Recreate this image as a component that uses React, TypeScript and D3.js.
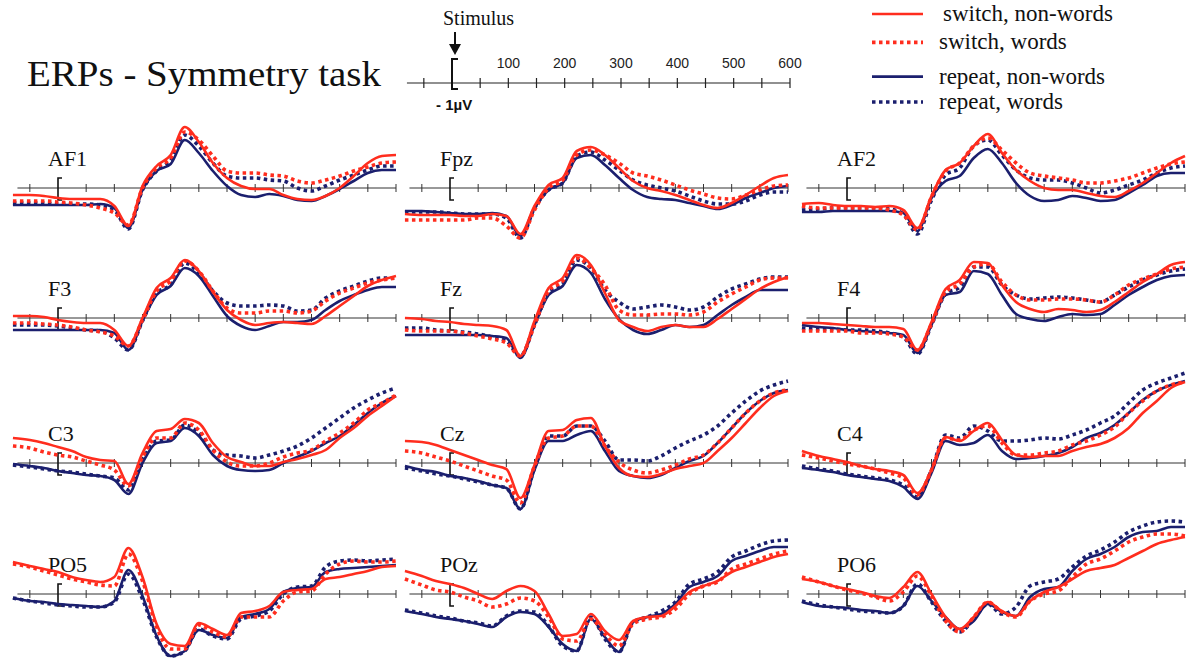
import React, { useRef, useEffect } from 'react';
import * as d3 from 'd3';

// sample times (ms) shared by every waveform
const TIMES = [-80, -50, -25, 0, 25, 50, 75,
  100, 125, 150, 175, 200, 225, 250,
  275, 300, 325, 350, 375, 400, 425,
  450, 475, 500, 525, 550, 575, 600];
const AXIS_TICKS = [-50, 50, 100, 150, 200, 250, 300, 350, 400, 450, 500, 550, 600];
const SCALE_LABELS = [100, 200, 300, 400, 500, 600];
const PANEL_LABELS = ['AF1', 'Fpz', 'AF2', 'F3', 'Fz', 'F4', 'C3', 'Cz', 'C4', 'PO5', 'POz', 'PO6'];

// amplitudes (µV-ish units, + is up), sn = switch non-words, sw = switch words,
// rn = repeat non-words, rw = repeat words
const AF1_SN = [-0.7, -0.7, -0.8, -1.0, -1.1, -1.1, -1.1, -1.8, -3.8, 0.2, 2.2, 3.3, 6.1, 4.6, 2.5, 1.0, 0.2, -0.1, -0.1, -0.7, -1.1, -1.2, -0.8, 0, 1.2, 2.5, 3.2, 3.3];
const AF1_SW = [-1.3, -1.3, -1.3, -1.4, -1.5, -1.7, -2.0, -2.5, -3.7, 0, 2.0, 3.0, 5.6, 4.8, 3.2, 1.7, 1.5, 1.5, 1.3, 1.2, 0.7, 0.5, 0.8, 1.2, 1.7, 2.1, 2.5, 2.6];
const AF1_RN = [-1.7, -1.7, -1.7, -1.7, -1.7, -1.7, -1.6, -2.0, -4.0, -0.2, 1.7, 2.4, 4.8, 3.5, 1.7, 0.2, -0.7, -0.9, -0.6, -0.8, -1.2, -1.3, -0.8, -0.1, 0.7, 1.5, 1.8, 1.8];
const AF1_RW = [-1.5, -1.5, -1.5, -1.6, -1.6, -1.6, -1.7, -2.2, -4.1, -0.2, 1.7, 2.8, 5.3, 4.2, 2.5, 1.2, 1.0, 1.0, 0.8, 0.7, 0, -0.3, 0.2, 0.8, 1.3, 1.8, 2.2, 2.2];

const FPZ_SN = [-2.6, -2.7, -2.7, -2.7, -2.8, -2.8, -2.6, -2.8, -4.6, -1.8, 0.3, 1.0, 3.7, 4.1, 3.3, 2.0, 0.7, 0, -0.3, -0.7, -1.2, -1.7, -2.0, -1.5, -0.7, 0.2, 1.0, 1.3];
const FPZ_SW = [-3.2, -3.2, -3.2, -3.2, -3.2, -3.0, -3.0, -3.8, -5.0, -2.2, 0, 0.8, 3.3, 3.8, 3.3, 2.5, 1.5, 1.2, 0.8, 0.3, -0.2, -0.6, -1.0, -1.1, -0.7, -0.2, 0.2, 0.3];
const FPZ_RN = [-2.3, -2.3, -2.4, -2.5, -2.6, -2.6, -2.5, -2.8, -4.8, -2.0, -0.2, 0.5, 3.0, 3.3, 2.3, 1.0, -0.2, -0.9, -1.1, -1.2, -1.5, -1.8, -2.1, -1.7, -1.0, -0.5, 0, 0.2];
const FPZ_RW = [-2.4, -2.4, -2.4, -2.5, -2.6, -2.6, -2.6, -3.0, -5.0, -2.0, -0.2, 0.5, 3.2, 3.6, 2.8, 1.8, 0.8, 0.3, 0, -0.3, -0.8, -1.3, -1.6, -1.6, -1.3, -0.7, -0.4, -0.4];

const AF2_SN = [-1.6, -1.5, -1.7, -1.8, -1.8, -1.9, -1.8, -2.2, -4.0, -0.8, 1.8, 2.5, 4.2, 5.4, 3.5, 1.8, 0.7, 0, -0.2, -0.2, -0.5, -0.8, -0.9, -0.3, 0.5, 1.5, 2.5, 3.2];
const AF2_SW = [-1.8, -2.0, -2.0, -2.0, -2.0, -2.0, -2.2, -2.7, -4.2, -0.9, 1.7, 2.5, 4.2, 5.0, 3.8, 2.5, 1.5, 1.2, 1.0, 0.8, 0.5, 0.5, 0.7, 1.0, 1.5, 2.0, 2.4, 2.6];
const AF2_RN = [-2.4, -2.4, -2.3, -2.3, -2.3, -2.3, -2.3, -2.5, -4.3, -1.0, 0.7, 1.2, 3.0, 3.9, 2.5, 0.5, -0.8, -1.3, -1.2, -0.8, -1.0, -1.3, -1.2, -0.5, 0.3, 1.2, 1.5, 1.5];
const AF2_RW = [-2.2, -2.1, -2.0, -2.0, -2.0, -2.0, -2.1, -2.6, -4.6, -1.2, 1.3, 2.0, 4.2, 4.8, 3.3, 1.8, 1.0, 0.8, 0.8, 0.5, 0, -0.5, -0.2, 0.3, 0.8, 1.5, 2.0, 2.2];

const F3_SN = [0.2, 0.2, 0.1, -0.2, -0.4, -0.5, -0.5, -1.2, -2.8, 0, 3.0, 4.0, 5.8, 4.7, 2.6, 0.8, -0.2, -0.7, -0.5, -0.4, -0.5, -0.6, 0.2, 1.2, 2.2, 3.2, 3.8, 4.2];
const F3_SW = [-0.5, -0.5, -0.6, -0.7, -0.9, -1.2, -1.4, -1.8, -2.8, -0.2, 2.7, 3.7, 5.7, 4.7, 2.7, 1.0, 0.5, 0.5, 0.7, 0.7, 0.5, 0.7, 1.7, 2.5, 3.0, 3.5, 3.8, 4.0];
const F3_RN = [-1.2, -1.2, -1.2, -1.2, -1.2, -1.2, -1.2, -1.5, -3.2, -0.3, 2.3, 3.2, 5.0, 4.2, 2.2, 0.2, -0.8, -1.2, -0.8, -0.4, -0.4, -0.2, 0.8, 1.7, 2.3, 2.8, 3.1, 3.1];
const F3_RW = [-0.7, -0.7, -0.7, -0.8, -1.0, -1.2, -1.3, -2.0, -3.2, -0.3, 2.5, 3.3, 5.5, 4.5, 2.7, 1.5, 1.2, 1.2, 1.3, 1.2, 0.7, 0.8, 2.0, 2.7, 3.2, 3.7, 4.0, 4.0];

const FZ_SN = [0, -0.1, -0.3, -0.4, -0.6, -0.7, -0.8, -1.2, -3.8, -0.3, 3.0, 4.0, 6.3, 5.3, 2.5, -0.2, -0.9, -1.3, -0.9, -0.7, -0.9, -0.9, -0.1, 0.9, 1.9, 2.9, 3.6, 4.1];
const FZ_SW = [-1.2, -1.3, -1.3, -1.3, -1.5, -1.8, -2.1, -2.5, -3.8, -0.7, 2.7, 3.7, 6.0, 5.0, 3.3, 0.8, 0.3, 0.3, 0.4, 0.4, 0.3, 0.6, 1.6, 2.4, 3.1, 3.8, 4.0, 4.0];
const FZ_RN = [-1.7, -1.7, -1.7, -1.7, -1.7, -1.7, -1.8, -2.0, -4.0, -0.7, 2.3, 3.2, 5.3, 4.5, 1.9, -0.1, -1.2, -1.6, -1.2, -0.7, -0.9, -0.7, 0.3, 1.3, 2.1, 2.8, 2.8, 2.8];
const FZ_RW = [-1.0, -1.0, -1.2, -1.3, -1.4, -1.6, -1.9, -2.3, -3.8, -0.7, 2.5, 3.4, 5.8, 5.0, 2.8, 1.6, 0.9, 1.1, 1.3, 1.1, 0.8, 1.1, 2.1, 2.9, 3.4, 3.9, 4.1, 4.1];

const F4_SN = [-0.5, -0.5, -0.6, -0.7, -0.8, -0.9, -0.9, -1.1, -3.2, -0.4, 2.9, 3.8, 5.6, 5.5, 3.3, 1.6, 0.9, 0.6, 0.9, 0.8, 0.6, 0.8, 1.6, 2.6, 3.6, 4.4, 5.3, 5.6];
const F4_SW = [-1.3, -1.3, -1.3, -1.3, -1.5, -1.5, -1.6, -1.9, -3.2, -0.6, 2.6, 3.4, 5.1, 5.4, 3.6, 2.3, 1.8, 1.8, 1.9, 1.9, 1.8, 1.6, 2.3, 3.3, 3.9, 4.4, 4.9, 5.1];
const F4_RN = [-0.7, -0.9, -1.0, -1.2, -1.3, -1.4, -1.5, -1.7, -3.5, -0.7, 2.3, 2.6, 4.7, 4.4, 2.3, 0.4, -0.1, -0.3, 0.1, 0.4, 0.3, 0.4, 1.3, 2.3, 3.1, 3.8, 4.2, 4.3];
const F4_RW = [-1.0, -1.1, -1.1, -1.2, -1.2, -1.3, -1.5, -1.9, -3.6, -0.7, 2.4, 3.1, 5.1, 5.1, 3.3, 2.3, 1.9, 2.0, 2.1, 2.0, 1.8, 1.6, 2.3, 3.1, 3.8, 4.3, 4.7, 4.9];

const C3_SN = [2.5, 2.3, 2.0, 1.6, 1.2, 0.6, 0.3, 0.2, -2.1, 1.0, 3.2, 3.4, 4.4, 4.0, 2.0, 0.6, 0.1, -0.3, -0.3, 0.1, 0.4, 0.8, 1.3, 2.5, 3.5, 4.7, 5.7, 6.7];
const C3_SW = [1.7, 1.5, 1.1, 0.8, 0.6, 0.2, -0.2, -0.7, -2.3, 0.6, 2.5, 2.5, 4.0, 3.3, 1.3, 0.1, -0.3, -0.3, 0, 0.6, 1.0, 1.3, 2.2, 3.0, 4.0, 5.3, 6.0, 6.8];
const C3_RN = [-0.1, -0.3, -0.5, -0.8, -1.0, -1.2, -1.3, -1.7, -3.1, 0, 2.0, 2.2, 3.5, 2.7, 0.8, -0.3, -0.7, -0.8, -0.7, 0, 0.6, 1.2, 2.0, 2.7, 3.8, 5.0, 6.0, 6.7];
const C3_RW = [-0.2, -0.4, -0.6, -0.8, -0.9, -1.1, -1.3, -1.5, -2.7, 0.3, 2.2, 2.3, 3.8, 3.0, 1.3, 0.8, 0.7, 0.5, 0.8, 1.2, 1.7, 2.5, 3.5, 4.5, 5.5, 6.3, 7.0, 7.5];

const CZ_SN = [2.2, 2.1, 1.8, 1.3, 0.8, 0.3, -0.2, -0.6, -3.5, -0.2, 3.2, 3.3, 4.3, 4.5, 1.7, -0.5, -1.3, -1.4, -1.1, -0.6, -0.3, 0, 1.2, 2.5, 4.0, 5.5, 6.7, 7.2];
const CZ_SW = [1.2, 1.0, 0.6, 0.2, -0.3, -0.8, -1.3, -1.7, -4.0, -0.3, 2.5, 2.7, 3.7, 3.7, 1.7, 0.1, -0.7, -1.0, -0.7, -0.2, 0.4, 0.8, 2.0, 3.5, 5.0, 6.2, 7.0, 7.3];
const CZ_RN = [-0.3, -0.7, -0.9, -1.3, -1.5, -1.8, -2.2, -2.5, -4.6, -0.7, 2.2, 2.2, 2.8, 3.2, 1.2, -0.8, -1.3, -1.5, -1.2, -0.5, 0.2, 0.7, 2.0, 3.5, 5.0, 6.2, 7.0, 7.3];
const CZ_RW = [-0.5, -0.8, -1.1, -1.3, -1.6, -1.9, -2.2, -2.5, -4.6, -0.5, 2.7, 2.7, 3.7, 3.7, 2.2, 0.3, 0.3, 0.2, 0.7, 1.5, 2.2, 2.8, 3.7, 5.0, 6.2, 7.2, 7.8, 8.2];

const C4_SN = [1.2, 0.7, 0.4, 0.1, -0.3, -0.6, -0.8, -1.2, -3.0, -0.7, 2.6, 2.2, 3.2, 4.0, 2.3, 0.8, 0.6, 0.7, 0.7, 1.2, 1.6, 1.9, 2.5, 3.5, 5.0, 6.2, 7.5, 8.1];
const C4_SW = [0.8, 0.5, 0.2, -0.1, -0.3, -0.6, -1.0, -1.5, -3.2, -0.7, 2.5, 2.3, 3.3, 3.7, 2.0, 0.8, 0.8, 1.0, 1.2, 1.8, 2.2, 2.8, 3.6, 5.0, 6.2, 7.2, 7.8, 8.1];
const C4_RN = [-0.5, -0.7, -0.9, -1.2, -1.4, -1.6, -1.8, -2.4, -3.6, -1.0, 2.2, 1.8, 2.0, 2.8, 1.2, 0.4, 0.5, 0.7, 1.0, 1.6, 2.5, 3.0, 3.8, 5.0, 6.3, 7.2, 7.8, 8.2];
const C4_RW = [-0.3, -0.6, -0.8, -1.1, -1.3, -1.5, -1.7, -2.2, -3.4, -0.7, 2.8, 2.5, 3.7, 3.2, 2.2, 2.2, 2.3, 2.5, 2.4, 2.8, 3.3, 4.0, 4.7, 6.0, 7.3, 8.0, 8.5, 9.0];

const PO5_SN = [3.2, 2.8, 2.5, 2.2, 1.7, 1.4, 1.2, 1.7, 4.6, 1.7, -3.0, -5.0, -5.2, -2.9, -3.5, -4.1, -1.9, -1.7, -1.2, 0.2, 0.4, 0.5, 1.5, 1.7, 2.0, 2.3, 2.7, 2.8];
const PO5_SW = [3.0, 2.7, 2.3, 1.9, 1.5, 1.2, 0.9, 0.8, 4.0, 1.3, -3.3, -5.5, -5.5, -3.1, -3.8, -4.3, -2.3, -2.3, -2.3, -0.7, 0.2, 0.3, 2.0, 3.0, 3.3, 3.2, 3.2, 3.3];
const PO5_RN = [-0.4, -0.7, -0.8, -1.0, -1.1, -1.2, -1.3, -0.7, 2.4, -0.2, -4.2, -6.2, -5.7, -3.6, -4.1, -4.4, -2.3, -2.0, -1.5, 0.2, 0.6, 0.7, 2.2, 2.5, 2.6, 2.7, 2.8, 2.9];
const PO5_RW = [-0.4, -0.7, -0.9, -1.1, -1.2, -1.3, -1.3, -0.8, 2.0, -0.5, -4.3, -6.2, -5.7, -3.5, -4.2, -4.5, -2.5, -2.2, -1.7, 0, 0.7, 0.8, 2.7, 3.3, 3.4, 3.3, 3.4, 3.5];

const POZ_SN = [2.3, 1.8, 1.3, 1.0, 0.6, 0, -0.5, 0.3, 0.8, 0.3, -2.0, -4.2, -4.0, -2.0, -3.7, -4.6, -2.7, -2.3, -2.2, -1.2, 0.2, 0.8, 1.3, 2.2, 2.7, 3.2, 3.7, 4.0];
const POZ_SW = [1.5, 0.9, 0.4, 0.2, -0.3, -0.7, -1.3, -1.0, -0.4, -0.7, -2.3, -4.5, -4.7, -2.5, -4.0, -5.2, -3.0, -2.5, -2.3, -1.5, 0, 0.8, 1.2, 2.5, 3.0, 3.5, 4.0, 4.3];
const POZ_RN = [-1.7, -2.0, -2.3, -2.5, -2.7, -3.0, -3.3, -2.3, -1.8, -2.0, -3.3, -5.0, -5.7, -2.5, -4.3, -5.8, -2.8, -2.3, -2.0, -1.0, 0.7, 1.2, 1.8, 3.3, 3.8, 4.3, 4.7, 4.7];
const POZ_RW = [-1.6, -1.9, -2.2, -2.4, -2.7, -2.9, -3.2, -2.2, -1.7, -1.8, -3.2, -5.2, -5.7, -2.3, -4.5, -5.8, -2.8, -2.3, -1.7, -0.8, 1.0, 1.5, 2.2, 3.7, 4.3, 4.9, 5.3, 5.4];

const PO6_SN = [1.5, 1.2, 0.8, 0.5, 0.2, -0.2, -0.4, 0.7, 2.2, 0, -2.3, -3.5, -2.3, -0.8, -1.7, -2.2, -0.7, 0.2, 0.7, 1.5, 2.3, 2.6, 2.9, 3.6, 4.3, 5.0, 5.4, 5.7];
const PO6_SW = [1.7, 1.2, 0.8, 0.4, 0.1, -0.3, -0.7, 0.2, 1.8, -0.2, -2.7, -3.8, -2.3, -0.8, -1.8, -2.3, -0.7, 0, 0.3, 1.7, 3.0, 3.5, 4.3, 5.2, 5.7, 6.0, 6.0, 5.8];
const PO6_RN = [-0.8, -1.2, -1.3, -1.4, -1.6, -1.7, -1.9, -1.2, 0.8, -0.7, -2.3, -3.5, -2.7, -1.0, -1.8, -2.2, -0.3, 0.5, 0.7, 2.3, 3.5, 4.0, 4.7, 5.7, 6.2, 6.3, 6.7, 6.7];
const PO6_RW = [-0.7, -1.1, -1.3, -1.5, -1.7, -1.8, -1.9, -1.2, 1.0, -0.8, -2.7, -3.8, -2.5, -1.0, -2.0, -1.3, 0.8, 1.2, 1.5, 2.7, 3.8, 4.4, 5.2, 6.2, 6.8, 7.2, 7.3, 7.2];

const PANEL_DATA = {
  AF1: { sn: AF1_SN, sw: AF1_SW, rn: AF1_RN, rw: AF1_RW },
  Fpz: { sn: FPZ_SN, sw: FPZ_SW, rn: FPZ_RN, rw: FPZ_RW },
  AF2: { sn: AF2_SN, sw: AF2_SW, rn: AF2_RN, rw: AF2_RW },
  F3: { sn: F3_SN, sw: F3_SW, rn: F3_RN, rw: F3_RW },
  Fz: { sn: FZ_SN, sw: FZ_SW, rn: FZ_RN, rw: FZ_RW },
  F4: { sn: F4_SN, sw: F4_SW, rn: F4_RN, rw: F4_RW },
  C3: { sn: C3_SN, sw: C3_SW, rn: C3_RN, rw: C3_RW },
  Cz: { sn: CZ_SN, sw: CZ_SW, rn: CZ_RN, rw: CZ_RW },
  C4: { sn: C4_SN, sw: C4_SW, rn: C4_RN, rw: C4_RW },
  PO5: { sn: PO5_SN, sw: PO5_SW, rn: PO5_RN, rw: PO5_RW },
  POz: { sn: POZ_SN, sw: POZ_SW, rn: POZ_RN, rw: POZ_RW },
  PO6: { sn: PO6_SN, sw: PO6_SW, rn: PO6_RN, rw: PO6_RW },
};

const RED = '#ff2d1e';
const NAVY = '#1b1f6e';
const SERIES = [
  { key: 'sn', name: 'switch, non-words', color: RED, dotted: false },
  { key: 'sw', name: 'switch, words', color: RED, dotted: true },
  { key: 'rn', name: 'repeat, non-words', color: NAVY, dotted: false },
  { key: 'rw', name: 'repeat, words', color: NAVY, dotted: true },
];
const DRAW_ORDER = ['rn', 'rw', 'sw', 'sn'];

const SERIF = '"Liberation Serif", "Times New Roman", serif';
const SANS = '"Liberation Sans", Arial, sans-serif';

const COL_X0 = [58, 450, 847];
const ROW_Y = [188, 318, 463, 594];
const PX_600 = 338;
const UNIT_PX = 10;

function styleLine(sel, s) {
  sel.attr('fill', 'none')
    .attr('stroke', s.color)
    .attr('stroke-width', s.dotted ? 3.6 : 2.6)
    .attr('stroke-dasharray', s.dotted ? '3.5 3.5' : null)
    .attr('stroke-linejoin', 'round');
}

function App() {
  const ref = useRef<SVGSVGElement>(null);

  useEffect(() => {
    const svg = d3.select(ref.current);
    svg.selectAll('*').remove();
    svg.append('rect').attr('width', 1198).attr('height', 663).attr('fill', '#fff');

    // title
    svg.append('text')
      .attr('x', 27).attr('y', 86)
      .attr('textLength', 354).attr('lengthAdjust', 'spacingAndGlyphs')
      .style('font-family', SERIF).style('font-size', '35px').attr('fill', '#111')
      .text('ERPs - Symmetry task');

    // scale bar
    const sx = d3.scaleLinear().domain([0, 600]).range([452, 452 + PX_600]);
    const sy = 83;
    const sb = svg.append('g');
    sb.append('line').attr('x1', sx(-80)).attr('x2', sx(600)).attr('y1', sy).attr('y2', sy)
      .attr('stroke', '#222').attr('stroke-width', 1.2);
    sb.selectAll('line.tk').data(AXIS_TICKS).join('line').attr('class', 'tk')
      .attr('x1', d => sx(d)).attr('x2', d => sx(d)).attr('y1', sy - 5).attr('y2', sy + 5)
      .attr('stroke', '#222').attr('stroke-width', 1.2);
    sb.selectAll('text.lb').data(SCALE_LABELS).join('text').attr('class', 'lb')
      .attr('x', d => sx(d)).attr('y', sy - 15).attr('text-anchor', 'middle')
      .style('font-family', SANS).style('font-size', '14px').attr('fill', '#222')
      .text(d => d);
    sb.append('path')
      .attr('d', `M${sx(0) + 6},${sy - 24}H${sx(0)}V${sy + 6}H${sx(0) + 6}`)
      .attr('fill', 'none').attr('stroke', '#111').attr('stroke-width', 2);
    sb.append('line').attr('x1', sx(0) + 3).attr('x2', sx(0) + 3).attr('y1', 32).attr('y2', 46)
      .attr('stroke', '#111').attr('stroke-width', 2);
    sb.append('path')
      .attr('d', `M${sx(0) - 3},44L${sx(0) + 9},44L${sx(0) + 3},55Z`).attr('fill', '#111');
    sb.append('text').attr('x', 443).attr('y', 25)
      .style('font-family', SERIF).style('font-size', '20px').attr('fill', '#111')
      .text('Stimulus');
    sb.append('text').attr('x', 436).attr('y', 110)
      .style('font-family', SANS).style('font-size', '15px').style('font-weight', 'bold').attr('fill', '#111')
      .text('- 1µV');

    // legend
    const lg = svg.append('g');
    const legendY = d3.scalePoint().domain(SERIES.map(s => s.key)).range([14, 102]);
    SERIES.forEach(s => {
      const yy = legendY(s.key) + (s.key === 'rn' ? 4 : s.key === 'sw' ? -1 : 0);
      lg.append('line').attr('x1', 872).attr('x2', 923).attr('y1', yy).attr('y2', yy).call(styleLine, s);
      lg.append('text').attr('x', s.key === 'sn' ? 943 : 939).attr('y', yy + 7)
        .style('font-family', SERIF).style('font-size', '23px').attr('fill', '#111')
        .text(s.name);
    });

    // panels
    PANEL_LABELS.forEach((label, i) => {
      const col = i % 3;
      const row = Math.floor(i / 3);
      const x = d3.scaleLinear().domain([0, 600]).range([COL_X0[col], COL_X0[col] + PX_600]);
      const y = d3.scaleLinear().domain([0, 1]).range([ROW_Y[row], ROW_Y[row] - UNIT_PX]);
      const g = svg.append('g');

      g.append('line').attr('x1', x(-72)).attr('x2', x(600)).attr('y1', y(0)).attr('y2', y(0))
        .attr('stroke', '#333').attr('stroke-width', 1);
      g.selectAll('line.tk').data(AXIS_TICKS).join('line').attr('class', 'tk')
        .attr('x1', d => x(d)).attr('x2', d => x(d)).attr('y1', y(0) - 4).attr('y2', y(0) + 4)
        .attr('stroke', '#333').attr('stroke-width', 1);
      g.append('path')
        .attr('d', `M${x(0) + 4},${y(0) - 10}H${x(0)}V${y(0) + 12}H${x(0) + 4}`)
        .attr('fill', 'none').attr('stroke', '#111').attr('stroke-width', 1.6);
      g.append('text').attr('x', x(0) - 10).attr('y', y(0) - 22)
        .style('font-family', SERIF).style('font-size', '22px').attr('fill', '#111')
        .text(label);

      const line = d3.line<number>()
        .x((_, k) => x(TIMES[k]))
        .y(d => y(d))
        .curve(d3.curveMonotoneX);

      DRAW_ORDER.forEach(key => {
        const s = SERIES.find(q => q.key === key);
        g.append('path').datum(PANEL_DATA[label][key]).attr('d', line).call(styleLine, s);
      });
    });
  }, []);

  return (
    <div style={{ position: 'absolute', left: 0, top: 0 }}>
      <svg ref={ref} width={1198} height={663} style={{ display: 'block' }} />
    </div>
  );
}

export default App;
